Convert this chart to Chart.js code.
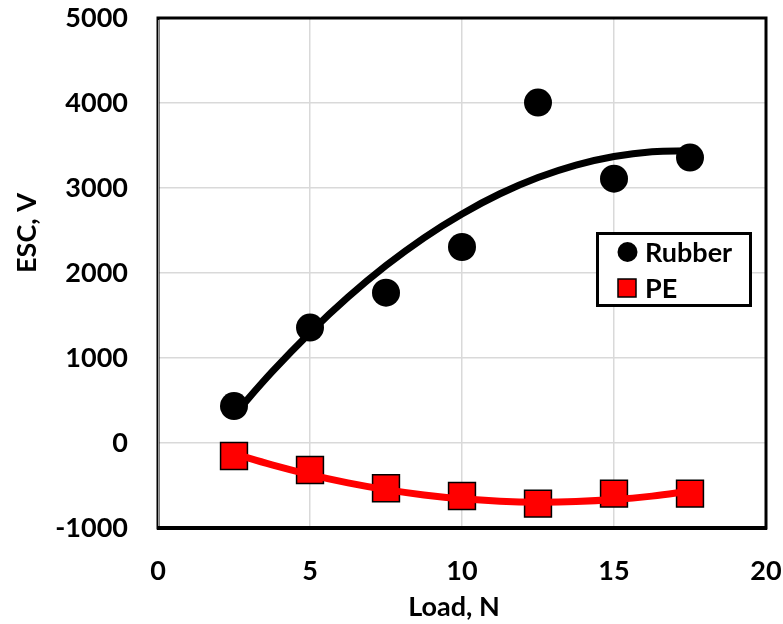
<!DOCTYPE html>
<html>
<head>
<meta charset="utf-8">
<script src="https://cdn.jsdelivr.net/npm/chart.js@4"></script>
<style>
  html, body { margin: 0; padding: 0; background: #fff; }
  #escChart { display: block; }
</style>
</head>
<body>
<canvas id="escChart" width="783" height="624"></canvas>
<script>
// measured points
const loads = [2.5, 5, 7.5, 10, 12.5, 15, 17.5];
const rubberEsc = [435, 1358, 1769, 2306, 4005, 3110, 3358];
const peEsc = [-153, -318, -533, -624, -713, -595, -595];

// trend curves
const trendLoads = [2.5, 3.75, 5, 6.25, 7.5, 8.75, 10, 11.25, 12.5, 13.75, 15, 16.25, 17.5];
const rubberTrend = [329, 836, 1298, 1715, 2087, 2414, 2695, 2932, 3123, 3270, 3371, 3427, 3438];
const peTrend = [-126, -257, -372, -469, -549, -611, -657, -685, -696, -689, -666, -625, -567];

const xTicks = [0, 5, 10, 15, 20];
const yTicks = [-1000, 0, 1000, 2000, 3000, 4000, 5000];

const seriesNames = ['Rubber', 'PE'];
const axisTitles = { x: 'Load, N', y: 'ESC, V' };

const FONT = 'Lato, "Liberation Sans", sans-serif';

function toPoints(xs, ys) {
    return xs.map((x, i) => ({ x: x, y: ys[i] }));
}

// frame, axis titles and the boxed legend
const decorPlugin = {
    id: 'decor',
    afterDraw(chart) {
        const ctx = chart.ctx;
        const a = chart.chartArea;
        ctx.save();

        // plot frame
        ctx.strokeStyle = '#000';
        ctx.lineWidth = 3;
        ctx.strokeRect(a.left, a.top, a.right - a.left, a.bottom - a.top);
        ctx.lineWidth = 4;
        ctx.beginPath();
        ctx.moveTo(a.left - 1, a.bottom);
        ctx.lineTo(a.right + 1, a.bottom);
        ctx.stroke();
        ctx.strokeStyle = '#9a9a9a';
        ctx.lineWidth = 1;
        ctx.beginPath();
        ctx.moveTo(a.left + 0.5, a.top + 2);
        ctx.lineTo(a.left + 0.5, a.bottom - 2);
        ctx.stroke();

        // axis titles
        ctx.fillStyle = '#000';
        ctx.font = 'bold 27px ' + FONT;
        ctx.textAlign = 'center';
        ctx.textBaseline = 'middle';
        ctx.fillText(axisTitles.x, 454, 607);
        ctx.save();
        ctx.translate(27, 233);
        ctx.rotate(-Math.PI / 2);
        ctx.fillText(axisTitles.y, 0, 0);
        ctx.restore();

        // legend
        ctx.fillStyle = '#fff';
        ctx.fillRect(597, 233, 154, 73);
        ctx.strokeStyle = '#000';
        ctx.lineWidth = 3;
        ctx.strokeRect(597.5, 233.5, 153, 72);

        ctx.fillStyle = '#000';
        ctx.beginPath();
        ctx.arc(627.5, 252, 10, 0, Math.PI * 2);
        ctx.fill();

        ctx.fillStyle = '#ff0000';
        ctx.fillRect(618, 279, 18, 18);
        ctx.lineWidth = 1.5;
        ctx.strokeRect(618, 279, 18, 18);

        ctx.fillStyle = '#000';
        ctx.textAlign = 'left';
        ctx.fillText(seriesNames[0], 645, 253);
        ctx.fillText(seriesNames[1], 645, 289);

        ctx.restore();
    }
};

const tickFont = { family: FONT, size: 27, weight: 'bold' };

new Chart(document.getElementById('escChart'), {
    type: 'scatter',
    data: {
        datasets: [
            {
                label: seriesNames[0] + ' trend',
                data: toPoints(trendLoads, rubberTrend),
                showLine: true,
                borderColor: '#000',
                borderWidth: 7,
                pointRadius: 0,
                tension: 0.4,
                order: 0
            },
            {
                label: seriesNames[1] + ' trend',
                data: toPoints(trendLoads, peTrend),
                showLine: true,
                borderColor: '#ff0000',
                borderWidth: 7,
                pointRadius: 0,
                tension: 0.4,
                order: 0
            },
            {
                label: seriesNames[0],
                data: toPoints(loads, rubberEsc),
                pointStyle: 'circle',
                pointRadius: 14,
                backgroundColor: '#000',
                borderColor: '#000',
                borderWidth: 0,
                order: 1
            },
            {
                label: seriesNames[1],
                data: toPoints(loads, peEsc),
                pointStyle: 'rect',
                pointRadius: 19,
                backgroundColor: '#ff0000',
                borderColor: '#000',
                borderWidth: 1.5,
                order: 1
            }
        ]
    },
    options: {
        responsive: false,
        animation: false,
        layout: { autoPadding: false, padding: { top: 18, right: 17, left: 0, bottom: 0 } },
        plugins: {
            legend: { display: false },
            tooltip: { enabled: false }
        },
        scales: {
            x: {
                type: 'linear',
                min: 0,
                max: 20,
                afterBuildTicks: scale => { scale.ticks = xTicks.map(v => ({ value: v })); },
                afterFit: scale => {
                    scale.height = 96;
                    scale.paddingLeft = 0;
                    scale.paddingRight = 0;
                },
                grid: { color: '#d9d9d9', lineWidth: 1.5, drawTicks: false },
                border: { display: false },
                ticks: {
                    padding: 27,
                    color: '#000',
                    font: tickFont,
                    callback: value => String(value)
                }
            },
            y: {
                type: 'linear',
                min: -1000,
                max: 5000,
                afterBuildTicks: scale => { scale.ticks = yTicks.map(v => ({ value: v })); },
                afterFit: scale => {
                    scale.width = 158;
                    scale.paddingTop = 0;
                    scale.paddingBottom = 0;
                },
                grid: { color: '#d9d9d9', lineWidth: 1.5, drawTicks: false },
                border: { display: false },
                ticks: {
                    padding: 30,
                    color: '#000',
                    font: tickFont,
                    callback: value => String(value)
                }
            }
        }
    },
    plugins: [decorPlugin]
});
</script>
</body>
</html>
